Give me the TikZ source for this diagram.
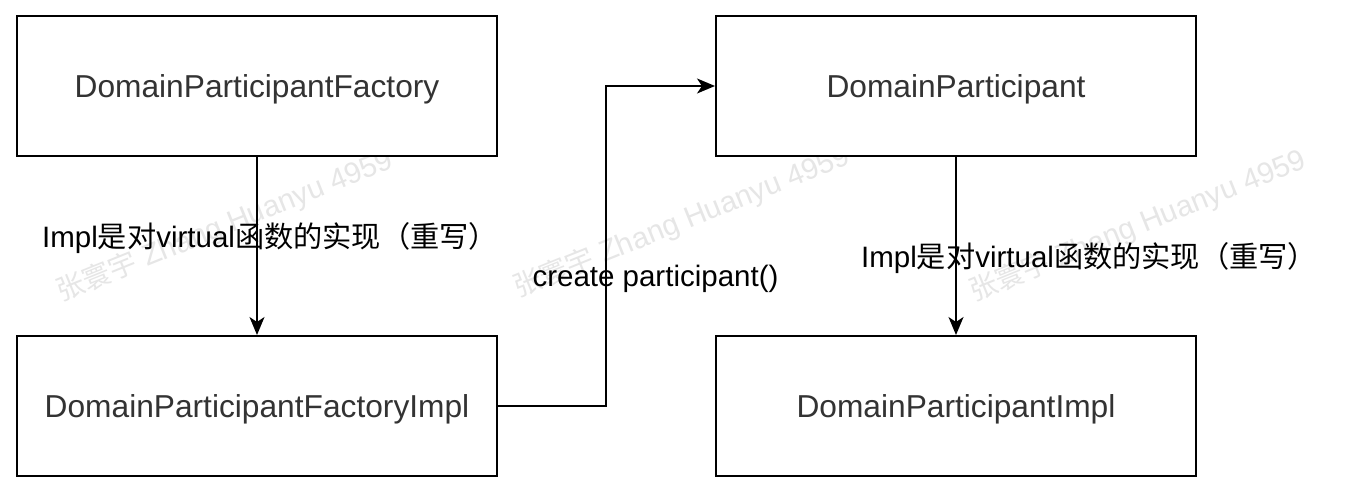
\documentclass[tikz,border=0pt]{standalone}
\usepackage{fontspec}
\setmainfont{Liberation Sans}
\newfontfamily\cjk{Noto Sans CJK SC}
\usetikzlibrary{arrows.meta}
\definecolor{boxtext}{HTML}{333333}
\definecolor{wmark}{HTML}{E6E6E6}
\tikzset{
  box/.style={draw=black, line width=2pt, fill=white, minimum width=480pt, minimum height=140pt, inner sep=0pt, text depth=0pt, text=boxtext, font=\fontsize{31.7}{36}\selectfont},
  lbl/.style={anchor=base, inner sep=0pt, text=black, font=\fontsize{29.5}{34}\selectfont},
  wm/.style={rotate=22, text=wmark, inner sep=0pt, font=\fontsize{29.5}{33}\selectfont},
  arr/.style={draw=black, line width=2pt, -{Stealth[length=18pt,width=15pt,inset=5pt]}}
}
\newcommand{\cjkl}[1]{{\cjk\fontsize{29.2}{34}\selectfont #1}}
\newcommand{\cjkw}[1]{{\cjk\fontsize{28}{32}\selectfont #1}}
\begin{document}
\begin{tikzpicture}[x=1pt,y=-1pt]
\useasboundingbox (0,0) rectangle (1354,494);
\fill[white] (0,0) rectangle (1354,494);
% watermarks
\node[wm] (w1) at (225,226) {\cjkw{张寰宇} Zhang Huanyu 4959};
\node[wm] (w2) at (682,222) {\cjkw{张寰宇} Zhang Huanyu 4959};
\node[wm] (w3) at (1138,226) {\cjkw{张寰宇} Zhang Huanyu 4959};
% boxes
\node[box] (b1) at (257,86) {DomainParticipantFactory};
\node[box] (b2) at (257,406) {DomainParticipantFactoryImpl};
\node[box] (b3) at (956,86) {DomainParticipant};
\node[box] (b4) at (956,406) {DomainParticipantImpl};
% connectors
\coordinate (bend) at (606,406);
\draw[arr] (b1.south) -- (b2.north);
\draw[arr] (b2.east) -- (bend) |- (b3.west);
\draw[arr] (b3.south) -- (b4.north);
% labels
\node[lbl] (l1) at (270,248) {Impl\cjkl{是对}virtual\cjkl{函数的实现（重写）}};
\node[lbl] (l2) at (655.5,287) {create participant()};
\node[lbl] (l3) at (1089,268) {Impl\cjkl{是对}virtual\cjkl{函数的实现（重写）}};
\end{tikzpicture}
\end{document}
